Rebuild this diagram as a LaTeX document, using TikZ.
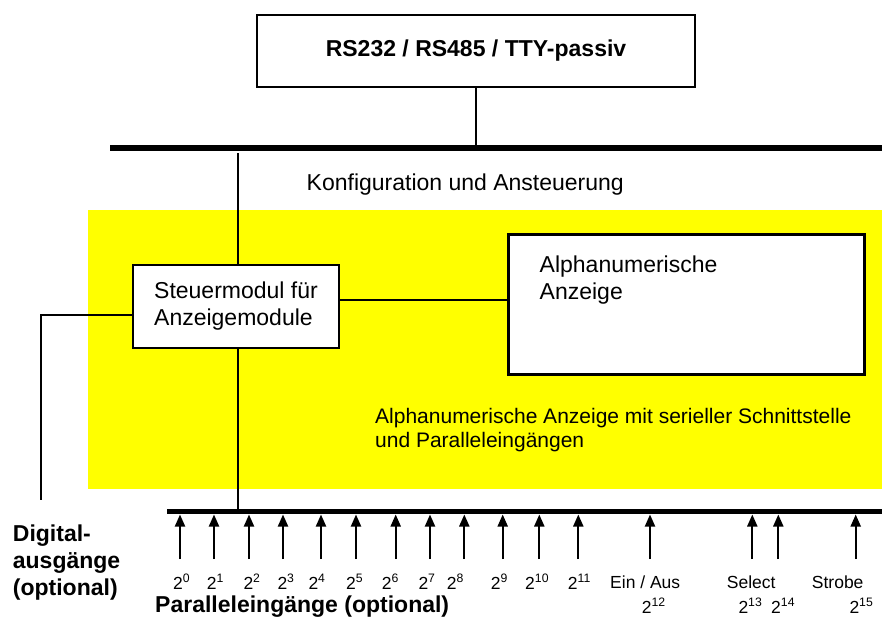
\documentclass[tikz,border=0pt]{standalone}
\usepackage{fontspec}
\setmainfont{Liberation Sans}
\usetikzlibrary{arrows.meta}
\definecolor{bgyellow}{RGB}{255,255,0}
\begin{document}
\begin{tikzpicture}[x=1pt,y=-1pt,
  box/.style={draw=black, line width=2.5pt, fill=white, inner sep=0pt},
  txt/.style={inner sep=0pt, anchor=base west, font=\fontsize{23}{27}\selectfont},
  txtb/.style={txt, font=\fontsize{23}{27}\selectfont\bfseries},
  note/.style={inner sep=0pt, anchor=base west, font=\fontsize{21}{24}\selectfont},
  small/.style={inner sep=0pt, anchor=base west, font=\fontsize{17.5}{20}\selectfont},
  bus/.style={line width=5.5pt},
  wire/.style={line width=2pt},
  arr/.style={line width=2pt, -{Triangle[width=10pt,length=12pt]}}]
\useasboundingbox (0,0) rectangle (882,619);
% yellow area
\fill[bgyellow] (88,210) rectangle (882,489);
% top interface box
\node[box, minimum width=438pt, minimum height=72pt,
      font=\fontsize{23}{27}\selectfont\bfseries] (rs) at (476,51) {RS232 / RS485 / TTY-passiv};
% top bus
\coordinate (busL) at (110,148);
\coordinate (busR) at (882,148);
\draw[bus] (busL) -- (busR);
\draw[wire] (rs.south) -- (rs.south |- busL);
\node[txt] (konf) at (306.5,190) {Konfiguration und Ansteuerung};
% control module
\node[box, minimum width=206pt, minimum height=83pt, align=left,
      font=\fontsize{23}{27}\selectfont] (stm) at (236,306.5) {Steuermodul für\\Anzeigemodule};
% display box
\node[box, minimum width=356pt, minimum height=140pt] (alp) at (686.3,304.3) {};
\node[txt] (alp1) at (539.5,272) {Alphanumerische};
\node[txt] (alp2) at (539.5,299) {Anzeige};
% note text
\node[note] (n1) at (375,423) {Alphanumerische Anzeige mit serieller Schnittstelle};
\node[note] (n2) at (375,447) {und Paralleleingängen};
% connections
\coordinate (kTop) at (238,153);
\draw[wire] (kTop) -- (kTop |- stm.north);
\draw[wire] ([yshift=6.5pt]stm.east) -- ([yshift=6.5pt]stm.east -| alp.west);
\coordinate (dig) at (40.5,500);
\draw[wire] ([yshift=-8.5pt]stm.west) -| (dig);
% bottom bus
\coordinate (b2L) at (167,511.5);
\coordinate (b2R) at (882,511.5);
\draw[bus] (b2L) -- (b2R);
\draw[wire] (stm.south -| kTop) -- (kTop |- b2L);
% arrows
\foreach \x [count=\i] in {180,214,249,283,321,356,395.7,430,464.3,502.7,539.3,578.3,650,752.3,778.3,855.7} {
  \coordinate (a\i) at (\x,559);
  \draw[arr] (a\i) -- (\x,514.5);
}
% bit labels
\foreach \x/\n [count=\i] in {173/0,206.7/1,243.3/2,277.3/3,308.3/4,346/5,381.7/6,418.3/7,446.7/8,490.7/9,525/10,567.7/11} {
  \node[small] (l\i) at (\x,589) {2\textsuperscript{\n}};
}
\node[small] (ein) at (610,588) {Ein / Aus};
\node[small] (sel) at (726.7,588) {Select};
\node[small] (str) at (811.7,588) {Strobe};
\node[small] (l12) at (641.7,613) {2\textsuperscript{12}};
\node[small] (l13) at (738.3,613) {2\textsuperscript{13}};
\node[small] (l14) at (771,613) {2\textsuperscript{14}};
\node[small] (l15) at (849.3,613) {2\textsuperscript{15}};
% bold captions
\node[txtb] (par) at (155,612) {Paralleleingänge (optional)};
\node[txtb] (d1) at (12.7,541) {Digital-};
\node[txtb] (d2) at (12.7,568) {ausgänge};
\node[txtb] (d3) at (12.7,595) {(optional)};
\end{tikzpicture}
\end{document}
